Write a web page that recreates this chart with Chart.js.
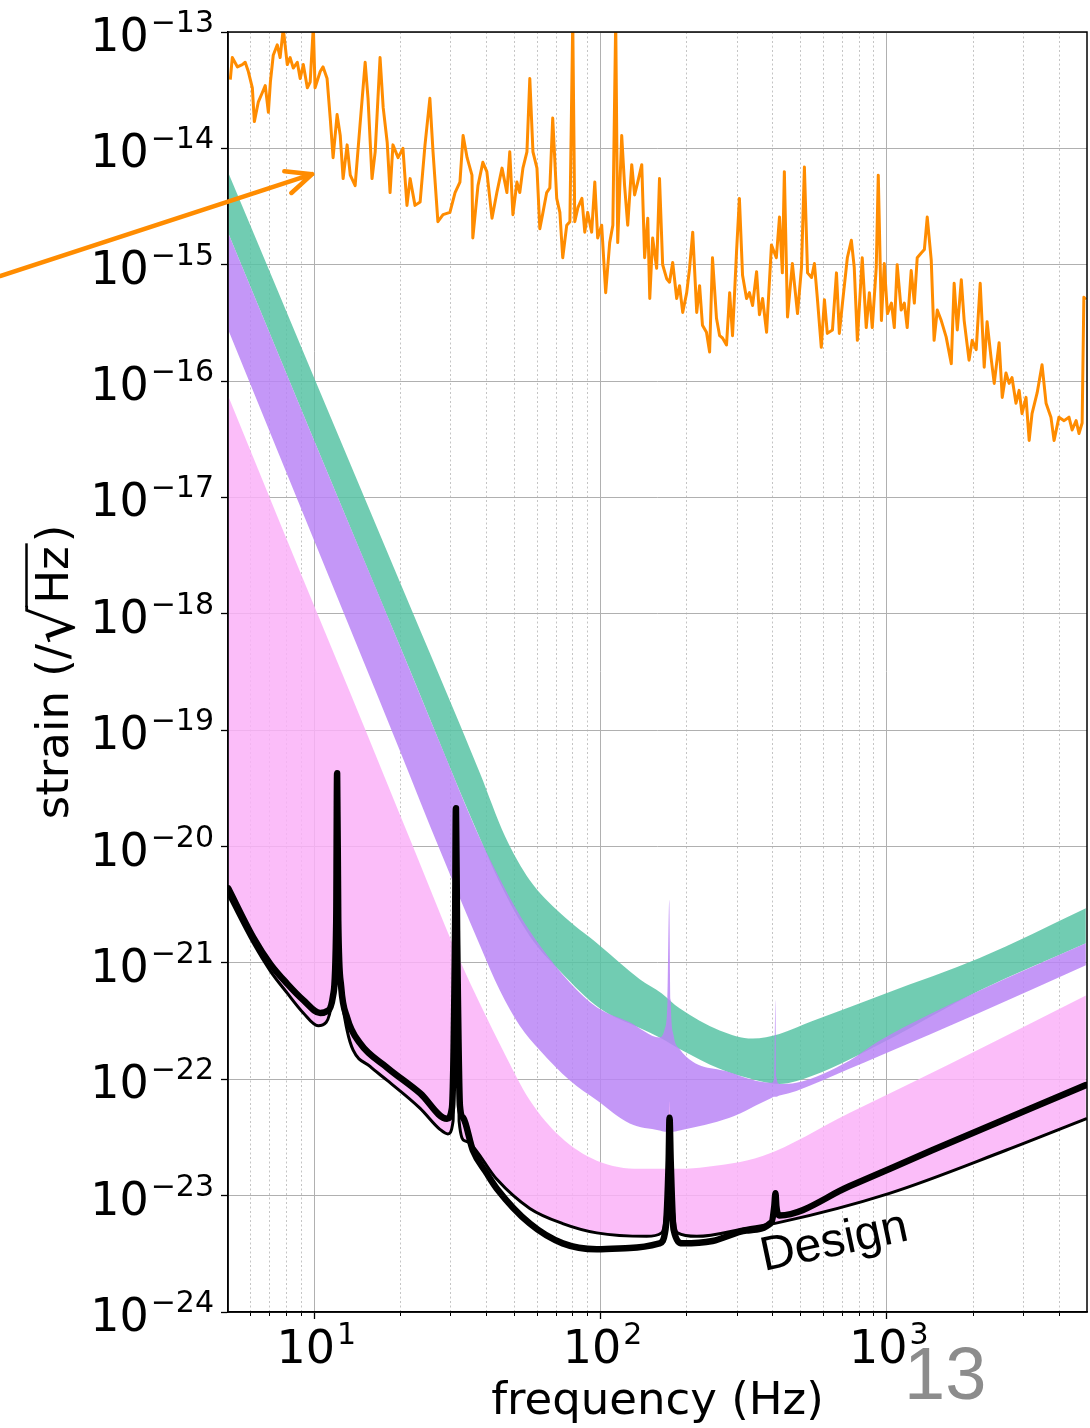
<!DOCTYPE html>
<html>
<head>
<meta charset="utf-8">
<script src="https://cdn.jsdelivr.net/npm/chart.js@4.4.1/dist/chart.umd.min.js"></script>
<style>
	html, body { margin: 0; padding: 0; background: #fff; }
	#wrap { position: relative; width: 1090px; height: 1428px; }
	#slideNo {
		position: absolute; left: 904px; top: 1337px;
		font: 74px/74px "Liberation Sans", sans-serif; color: #8c8c8c;
	}
</style>
</head>
<body>
<div id="wrap">
	<canvas id="chart" width="1090" height="1428"></canvas>
	<div id="slideNo">13</div>
</div>
<script>
// All curve values are log10 of the value
// (frequency in Hz, strain in 1/sqrt(Hz))

// Early measured sensitivity (orange)
const orangeLogF = [
	0.707, 0.714, 0.732, 0.749, 0.759, 0.770, 0.784, 0.791, 0.805, 0.819,
	0.829, 0.840, 0.847, 0.857, 0.871, 0.881, 0.892, 0.906, 0.916, 0.927,
	0.941, 0.951, 0.962, 0.976, 0.986, 0.997, 1.003, 1.021, 1.031, 1.045,
	1.056, 1.066, 1.080, 1.091, 1.101, 1.115, 1.126, 1.143, 1.160, 1.178,
	1.188, 1.202, 1.213, 1.230, 1.241, 1.255, 1.265, 1.275, 1.293, 1.310,
	1.324, 1.335, 1.352, 1.370, 1.387, 1.404, 1.415, 1.432, 1.450, 1.474,
	1.492, 1.509, 1.520, 1.534, 1.551, 1.554, 1.572, 1.589, 1.603, 1.621,
	1.638, 1.656,
	1.673, 1.683, 1.694, 1.708, 1.718, 1.729, 1.743, 1.753, 1.764, 1.778,
	1.788, 1.799, 1.812, 1.823, 1.833, 1.847, 1.858, 1.868, 1.882, 1.893,
	1.903, 1.910, 1.921, 1.935, 1.945, 1.955, 1.969, 1.980, 1.990, 2.004,
	2.018, 2.032, 2.043, 2.053, 2.060, 2.074, 2.084, 2.095, 2.109, 2.119,
	2.130, 2.144, 2.154, 2.165, 2.172, 2.182, 2.196, 2.206, 2.217, 2.231,
	2.241, 2.252, 2.266, 2.276, 2.287, 2.301, 2.311, 2.322, 2.336, 2.346,
	2.356, 2.370, 2.381, 2.391, 2.405, 2.416, 2.426, 2.440, 2.451, 2.461,
	2.475, 2.485, 2.496, 2.510, 2.520, 2.531, 2.545, 2.555, 2.566, 2.580,
	2.597, 2.614,
	2.625, 2.635, 2.642, 2.653, 2.670, 2.688, 2.702, 2.712, 2.723, 2.737,
	2.747, 2.757, 2.771, 2.782, 2.792, 2.810, 2.824, 2.834, 2.845, 2.862,
	2.876, 2.886, 2.897, 2.914, 2.928, 2.939, 2.949, 2.963, 2.970, 2.981,
	2.991, 3.002, 3.016, 3.026, 3.036, 3.050, 3.061, 3.071, 3.085, 3.096,
	3.106, 3.120, 3.131, 3.141, 3.155, 3.165, 3.176, 3.190, 3.207, 3.225,
	3.235, 3.246, 3.260, 3.270, 3.287, 3.298, 3.312, 3.326, 3.340, 3.350,
	3.364, 3.375, 3.392, 3.403, 3.416, 3.427, 3.437, 3.451, 3.462, 3.472,
	3.486, 3.497, 3.507, 3.525, 3.542, 3.556, 3.573, 3.584, 3.601, 3.619,
	3.636, 3.647, 3.661, 3.671, 3.682, 3.688, 3.695,
];
const orangeLogH = [
	-13.41, -13.22, -13.30, -13.28, -13.26, -13.34, -13.48, -13.77, -13.60, -13.52,
	-13.46, -13.69, -13.43, -13.20, -13.11, -13.22, -12.97, -13.28, -13.22, -13.31,
	-13.26, -13.40, -13.28, -13.48, -13.43, -12.95, -13.48, -13.34, -13.30, -13.40,
	-13.74, -14.08, -13.71, -13.89, -14.26, -13.97, -14.23, -14.32, -13.80, -13.26,
	-13.57, -14.26, -14.03, -13.22, -13.65, -13.95, -14.38, -13.97, -14.08, -14.00,
	-14.49, -14.26, -14.49, -14.46, -13.97, -13.57, -14.03, -14.63, -14.57, -14.55,
	-14.38, -14.29, -13.89, -14.08, -14.23, -14.77, -14.32, -14.12, -14.20, -14.60,
	-14.38, -14.17,
	-14.38, -14.03, -14.57, -14.29, -14.38, -14.17, -14.03, -13.40, -14.03, -14.17,
	-14.69, -14.55, -14.38, -14.34, -13.74, -14.43, -14.55, -14.94, -14.66, -14.63,
	-12.90, -14.63, -14.51, -14.43, -14.72, -14.55, -14.72, -14.29, -14.77, -14.66,
	-15.24, -14.81, -14.66, -12.90, -14.81, -13.89, -14.32, -14.66, -14.14, -14.40,
	-14.29, -14.14, -14.94, -14.60, -15.29, -14.77, -15.03, -14.26, -15.00, -15.12,
	-15.15, -14.98, -15.29, -15.18, -15.41, -15.24, -15.03, -14.72, -15.41, -15.18,
	-15.52, -15.58, -15.75, -14.94, -15.46, -15.61, -15.63, -15.69, -15.24, -15.61,
	-14.89, -14.43, -15.09, -15.29, -15.24, -15.35, -15.06, -15.43, -15.29, -15.58,
	-14.83, -14.94,
	-14.59, -15.07, -14.20, -15.45, -14.99, -15.42, -15.02, -14.16, -15.07, -15.11,
	-14.99, -15.28, -15.71, -15.30, -15.59, -15.56, -15.07, -15.59, -15.33, -14.94,
	-14.79, -15.02, -15.65, -14.94, -15.54, -15.24, -15.54, -15.02, -14.23, -15.48,
	-14.99, -15.42, -15.33, -15.54, -15.00, -15.39, -15.33, -15.54, -15.05, -15.33,
	-14.94, -14.90, -14.87, -14.59, -14.96, -15.65, -15.39, -15.48, -15.62, -15.85,
	-15.16, -15.56, -15.13, -15.48, -15.82, -15.65, -15.73, -15.16, -15.88, -15.49,
	-15.80, -16.02, -15.67, -16.14, -15.93, -16.02, -15.97, -16.19, -16.08, -16.28,
	-16.14, -16.51, -16.28, -16.10, -15.86, -16.19, -16.31, -16.51, -16.31, -16.34,
	-16.31, -16.42, -16.34, -16.45, -16.36, -15.28, -15.30,
];

// Green band
const greenLogF = [0.700, 1.003, 1.300, 1.579, 1.666, 1.753, 1.858, 1.997, 2.137, 2.213, 2.276, 2.416, 2.531, 2.625, 2.740, 2.998, 3.322, 3.695];
const greenTopLogH = [-14.21, -15.99, -17.73, -19.37, -19.91, -20.29, -20.57, -20.85, -21.14, -21.26, -21.39, -21.58, -21.65, -21.61, -21.50, -21.26, -20.96, -20.53];
const greenBottomLogH = [-14.73, -16.53, -18.28, -19.93, -20.40, -20.77, -21.07, -21.39, -21.56, -21.65, -21.74, -21.91, -22.00, -22.04, -21.97, -21.67, -21.24, -20.83];

// Purple band
const purpleLogF = [0.700, 1.003, 1.300, 1.439, 1.579, 1.649, 1.718, 1.788, 1.893, 1.987, 2.102, 2.206, 2.224, 2.234, 2.240, 2.245, 2.255, 2.276, 2.451, 2.597, 2.607, 2.611, 2.614, 2.625, 2.684, 2.869, 2.974, 3.322, 3.695];
const purpleTopLogH = [-14.73, -16.53, -18.28, -19.11, -19.93, -20.28, -20.59, -20.85, -21.17, -21.38, -21.51, -21.64, -21.57, -21.32, -20.46, -21.32, -21.62, -21.74, -21.94, -22.03, -21.98, -21.32, -21.98, -22.04, -22.03, -21.84, -21.67, -21.24, -20.83];
const purpleBottomLogH = [-15.56, -17.39, -19.18, -20.03, -20.85, -21.24, -21.54, -21.75, -22.01, -22.18, -22.38, -22.44, -22.45, -22.45, -22.45, -22.45, -22.45, -22.44, -22.33, -22.16, -22.15, -22.15, -22.15, -22.14, -22.10, -21.91, -21.80, -21.43, -21.02];

// Pink band (its lower edge is the thin black curve)
const pinkLogF = [0.700, 0.951, 1.126, 1.345, 1.509, 1.659, 1.753, 1.858, 1.987, 2.137, 2.227, 2.238, 2.241, 2.245, 2.255, 2.346, 2.566, 2.869, 3.218, 3.695];
const pinkTopLogH = [-16.13, -17.64, -18.68, -20.00, -20.98, -21.75, -22.18, -22.49, -22.70, -22.77, -22.77, -22.53, -22.19, -22.53, -22.77, -22.76, -22.66, -22.29, -21.87, -21.28];

// Design curves (black)
const thickLogF = [0.700, 0.787, 0.847, 0.906, 0.962, 1.021, 1.049, 1.066, 1.077, 1.080, 1.084, 1.094, 1.115, 1.160, 1.255, 1.370, 1.464, 1.481, 1.492, 1.495, 1.499, 1.509, 1.520, 1.554, 1.603, 1.638, 1.753, 1.868, 1.987, 2.102, 2.206, 2.227, 2.238, 2.241, 2.245, 2.255, 2.287, 2.391, 2.510, 2.597, 2.607, 2.611, 2.614, 2.625, 2.869, 3.158, 3.695];
const thickLogH = [-20.36, -20.78, -21.01, -21.18, -21.32, -21.43, -21.41, -21.28, -20.64, -19.37, -20.64, -21.20, -21.47, -21.69, -21.90, -22.12, -22.34, -22.25, -20.72, -19.67, -20.72, -22.23, -22.33, -22.61, -22.81, -22.94, -23.24, -23.41, -23.46, -23.45, -23.41, -23.29, -22.70, -22.33, -22.70, -23.29, -23.41, -23.39, -23.30, -23.23, -23.09, -22.98, -23.09, -23.17, -22.92, -22.61, -22.05];
const thinLogF = [0.700, 0.787, 0.847, 0.906, 0.962, 1.014, 1.042, 1.063, 1.077, 1.080, 1.084, 1.098, 1.115, 1.136, 1.195, 1.255, 1.370, 1.439, 1.467, 1.485, 1.492, 1.495, 1.499, 1.506, 1.527, 1.544, 1.638, 1.753, 1.868, 1.987, 2.161, 2.213, 2.231, 2.241, 2.252, 2.269, 2.336, 2.510, 2.625, 3.009, 3.416, 3.695];
const thinLogH = [-20.42, -20.83, -21.07, -21.26, -21.43, -21.54, -21.51, -21.32, -20.64, -19.43, -20.64, -21.32, -21.58, -21.75, -21.89, -22.01, -22.25, -22.43, -22.47, -22.36, -20.72, -19.73, -20.72, -22.36, -22.53, -22.55, -22.86, -23.11, -23.24, -23.32, -23.35, -23.32, -23.04, -22.40, -23.04, -23.32, -23.35, -23.28, -23.23, -22.98, -22.61, -22.34];

// Axes
const xMajorTicks = [10, 100, 1000];
const xMinorTicks = [6, 7, 8, 9, 20, 30, 40, 50, 60, 70, 80, 90, 200, 300, 400, 500, 600, 700, 800, 900, 2000, 3000, 4000];
const yDecades = [-24, -23, -22, -21, -20, -19, -18, -17, -16, -15, -14, -13];

// Annotations (Hz, strain)
const arrowTail = [0.80, 8.0e-16];
const arrowHead = [9.84, 6.0e-15];
const designAt = [372, 2.25e-24];

const toPoints = (lf, lh) => lf.map((f, i) => ({ x: 10 ** f, y: 10 ** lh[i] }));

const none = "rgba(0,0,0,0)";

function drawPow(ctx, exp, x, base, align) {
	ctx.font = '46px "DejaVu Sans"';
	const w1 = ctx.measureText("10").width;
	ctx.font = '30px "DejaVu Sans"';
	const w2 = ctx.measureText(exp).width;
	const gap = 2;
	const total = w1 + gap + w2;
	const x0 = align === "right" ? x - total : x - total / 2;
	ctx.textAlign = "left";
	ctx.textBaseline = "alphabetic";
	ctx.font = '46px "DejaVu Sans"';
	ctx.fillText("10", x0, base);
	ctx.font = '30px "DejaVu Sans"';
	ctx.fillText(exp, x0 + w1 + gap, base - 19);
}

const overlay = {
	id: "overlay",
	afterDraw(chart) {
		const { ctx, chartArea: a } = chart;
		const xs = chart.scales.x;
		const ys = chart.scales.y;
		ctx.save();

		// frame
		ctx.strokeStyle = "#000";
		ctx.lineWidth = 1.5;
		ctx.strokeRect(a.left, a.top, a.right - a.left, a.bottom - a.top);

		// tick labels
		ctx.fillStyle = "#000";
		yDecades.forEach((e) => {
			const py = ys.getPixelForValue(10 ** e);
			drawPow(ctx, "\u2212" + -e, a.left - 14, py + 19, "right");
		});
		xMajorTicks.forEach((v) => {
			const px = xs.getPixelForValue(v);
			drawPow(ctx, String(Math.round(Math.log10(v))), px + 2, a.bottom + 51, "center");
		});

		// x title
		ctx.font = '45px "DejaVu Sans"';
		ctx.textAlign = "center";
		ctx.fillText("frequency (Hz)", (a.left + a.right) / 2, a.bottom + 102);

		// y title with square root
		ctx.save();
		ctx.translate(68, (a.top + a.bottom) / 2);
		ctx.rotate(-Math.PI / 2);
		ctx.textAlign = "left";
		const f1 = '45px "DejaVu Sans"';
		const f2 = '60px "DejaVu Sans"';
		ctx.font = f1;
		const wA = ctx.measureText("strain (/").width;
		const wH = ctx.measureText("Hz").width;
		ctx.font = f2;
		const rm = ctx.measureText("\u221A");
		const wR = rm.width;
		ctx.font = f1;
		const wC = ctx.measureText(")").width;
		const total = wA + wR + wH + wC + 6;
		let tx = -total / 2;
		ctx.fillText("strain (/", tx, 0);
		tx += wA;
		ctx.font = f2;
		ctx.fillText("\u221A", tx, 6);
		const barY = 6 - rm.actualBoundingBoxAscent + 1.5;
		const barX0 = tx + rm.actualBoundingBoxRight - 2;
		tx += wR;
		ctx.font = f1;
		ctx.fillText("Hz", tx + 2, 0);
		ctx.lineWidth = 2.5;
		ctx.beginPath();
		ctx.moveTo(barX0, barY);
		ctx.lineTo(tx + wH + 5, barY);
		ctx.stroke();
		tx += wH + 6;
		ctx.fillText(")", tx, 0);
		ctx.restore();

		// Design label
		ctx.save();
		ctx.translate(xs.getPixelForValue(designAt[0]), ys.getPixelForValue(designAt[1]));
		ctx.rotate((-12 * Math.PI) / 180);
		ctx.font = '48px "Liberation Sans"';
		ctx.textAlign = "left";
		ctx.fillText("Design", 0, 0);
		ctx.restore();

		// arrow
		const x1 = xs.getPixelForValue(arrowTail[0]);
		const y1 = ys.getPixelForValue(arrowTail[1]);
		const x2 = xs.getPixelForValue(arrowHead[0]);
		const y2 = ys.getPixelForValue(arrowHead[1]);
		const ang = Math.atan2(y2 - y1, x2 - x1);
		ctx.strokeStyle = "#ff8c00";
		ctx.lineWidth = 4.5;
		ctx.lineCap = "round";
		ctx.lineJoin = "round";
		ctx.beginPath();
		ctx.moveTo(x1, y1);
		ctx.lineTo(x2, y2);
		ctx.moveTo(x2 - 28 * Math.cos(ang - 0.42), y2 - 28 * Math.sin(ang - 0.42));
		ctx.lineTo(x2, y2);
		ctx.lineTo(x2 - 28 * Math.cos(ang + 0.42), y2 - 28 * Math.sin(ang + 0.42));
		ctx.stroke();

		ctx.restore();
	},
};

const smooth = { cubicInterpolationMode: "monotone" };

new Chart(document.getElementById("chart"), {
	type: "line",
	data: {
		datasets: [
			{
				label: "early",
				data: toPoints(orangeLogF, orangeLogH),
				borderColor: "#ff8c00",
				borderWidth: 3,
				borderJoinStyle: "round",
				fill: false,
				clip: 0,
			},
			{
				label: "design thick",
				data: toPoints(thickLogF, thickLogH),
				borderColor: "#000",
				borderWidth: 6.5,
				borderJoinStyle: "round",
				borderCapStyle: "round",
				fill: false,
				clip: 0,
				...smooth,
			},
			{
				label: "design thin",
				data: toPoints(thinLogF, thinLogH),
				borderColor: "#000",
				borderWidth: 3,
				borderJoinStyle: "round",
				borderCapStyle: "round",
				fill: false,
				clip: 0,
				...smooth,
			},
			{
				label: "pink",
				data: toPoints(pinkLogF, pinkTopLogH),
				borderColor: none,
				borderWidth: 0,
				backgroundColor: "rgba(250,178,248,0.85)",
				fill: 2,
				...smooth,
			},
			{
				label: "purple",
				data: toPoints(purpleLogF, purpleTopLogH),
				borderColor: none,
				borderWidth: 0,
				backgroundColor: "rgba(186,133,246,0.85)",
				fill: "+1",
				...smooth,
			},
			{
				label: "purple low",
				data: toPoints(purpleLogF, purpleBottomLogH),
				borderColor: none,
				borderWidth: 0,
				fill: false,
				...smooth,
			},
			{
				label: "green",
				data: toPoints(greenLogF, greenTopLogH),
				borderColor: none,
				borderWidth: 0,
				backgroundColor: "rgba(88,195,165,0.85)",
				fill: "+1",
				...smooth,
			},
			{
				label: "green low",
				data: toPoints(greenLogF, greenBottomLogH),
				borderColor: none,
				borderWidth: 0,
				fill: false,
				...smooth,
			},
		],
	},
	options: {
		responsive: false,
		animation: false,
		devicePixelRatio: 1,
		layout: { padding: { top: 32, right: 3, left: 0, bottom: 0 } },
		elements: { point: { radius: 0 }, line: { tension: 0 } },
		plugins: { legend: { display: false }, tooltip: { enabled: false } },
		scales: {
			x: {
				type: "logarithmic",
				position: "bottom",
				min: 5,
				max: 5000,
				weight: 1,
				afterBuildTicks: (s) => {
					s.ticks = xMajorTicks.map((v) => ({ value: v, major: true }));
				},
				afterFit: (s) => {
					s.height = 116;
				},
				ticks: { display: false, autoSkip: false },
				grid: { color: "#b0b0b0", lineWidth: 1, tickLength: 7, tickColor: "#000", tickWidth: 1.3 },
				border: { display: true, color: "#000", width: 1.5 },
			},
			xMinor: {
				type: "logarithmic",
				axis: "x",
				position: "bottom",
				min: 5,
				max: 5000,
				weight: 0,
				afterBuildTicks: (s) => {
					s.ticks = xMinorTicks.map((v) => ({ value: v }));
				},
				afterFit: (s) => {
					s.height = 0;
				},
				ticks: { display: false, autoSkip: false },
				grid: { color: "#c4c4c4", lineWidth: 1, borderDash: [2, 2.5], tickLength: 4, tickColor: "#000", tickWidth: 1 },
				border: { display: false, dash: [2, 2.5] },
			},
			y: {
				type: "logarithmic",
				position: "left",
				min: 1e-24,
				max: 1e-13,
				afterBuildTicks: (s) => {
					s.ticks = yDecades.map((e) => ({ value: 10 ** e, major: true }));
				},
				afterFit: (s) => {
					s.width = 228;
				},
				ticks: { display: false, autoSkip: false },
				grid: { color: "#b0b0b0", lineWidth: 1, tickLength: 7, tickColor: "#000", tickWidth: 1.3 },
				border: { display: true, color: "#000", width: 1.5 },
			},
		},
	},
	plugins: [overlay],
});
</script>
</body>
</html>
